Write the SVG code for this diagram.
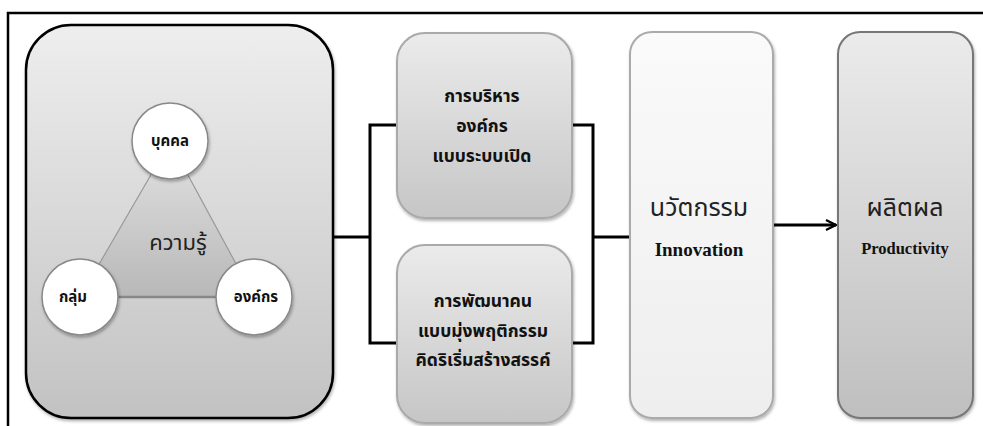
<svg xmlns="http://www.w3.org/2000/svg" width="983" height="426" viewBox="0 0 983 426">
<defs>
<linearGradient id="gBig" x1="0" y1="0" x2="0" y2="1"><stop offset="0" stop-color="#eeeeee"/><stop offset="1" stop-color="#c2c2c2"/></linearGradient>
<linearGradient id="gMid" x1="0" y1="0" x2="0" y2="1"><stop offset="0" stop-color="#ebebeb"/><stop offset="1" stop-color="#c6c6c6"/></linearGradient>
<linearGradient id="gInno" x1="0" y1="0" x2="0" y2="1"><stop offset="0" stop-color="#fafafa"/><stop offset="1" stop-color="#eeeeee"/></linearGradient>
<linearGradient id="gProd" x1="0" y1="0" x2="0" y2="1"><stop offset="0" stop-color="#ebebeb"/><stop offset="1" stop-color="#bfbfbf"/></linearGradient>
<linearGradient id="gTri" x1="0" y1="0" x2="0" y2="1"><stop offset="0" stop-color="#e2e2e2"/><stop offset="1" stop-color="#b8b8b8"/></linearGradient>
<filter id="sh" x="-10%" y="-10%" width="125%" height="125%"><feDropShadow dx="1" dy="2" stdDeviation="1.5" flood-color="#000" flood-opacity="0.3"/></filter>
<marker id="arr" viewBox="0 0 12 12" refX="11" refY="6" markerWidth="12" markerHeight="12" markerUnits="userSpaceOnUse" orient="auto"><path d="M1,1 L11,6 L1,11" fill="none" stroke="#000" stroke-width="2.2"/></marker>
<style>
.thai{font-family:"Noto Sans Thai","Noto Sans Thai Looped","Loma","Garuda","Tlwg Typo","Noto Sans","DejaVu Sans",sans-serif;}
.b{font-weight:bold;fill:#111;}
.conn{fill:none;stroke:#000;stroke-width:3;}
.en{font-family:"Liberation Serif","DejaVu Serif",serif;font-weight:bold;fill:#111;}
</style>
</defs>
<path d="M8,426 V13 H983" fill="none" stroke="#000" stroke-width="2.5"/>
<g id="knowledge">
<rect x="26" y="25" width="307" height="393" rx="45" ry="45" fill="url(#gBig)" stroke="#000" stroke-width="2.5" filter="url(#sh)"/>
<polygon points="170,142 80,297 254,297" fill="url(#gTri)" stroke="#999" stroke-width="1.2"/>
<line x1="80" y1="297" x2="254" y2="297" stroke="#888" stroke-width="2.5"/>
<text class="thai" x="178" y="250" font-size="22" text-anchor="middle" fill="#222">ความรู้</text>
</g>
<g id="person">
<circle cx="170" cy="141" r="38" fill="#fff" stroke="#888" stroke-width="1.5" filter="url(#sh)"/>
<text class="thai b" x="170" y="146" font-size="15" text-anchor="middle">บุคคล</text>
</g>
<g id="group">
<circle cx="80" cy="297" r="38" fill="#fff" stroke="#888" stroke-width="1.5" filter="url(#sh)"/>
<text class="thai b" x="73" y="302" font-size="15" text-anchor="middle">กลุ่ม</text>
</g>
<g id="org">
<circle cx="254" cy="297" r="38" fill="#fff" stroke="#888" stroke-width="1.5" filter="url(#sh)"/>
<text class="thai b" x="256" y="302" font-size="15" text-anchor="middle">องค์กร</text>
</g>
<g id="connectors">
<path class="conn" d="M333,237 H370 M397,125 H370 V343 H397"/>
<path class="conn" d="M572,125 H593 V343 H572 M593,237 H630"/>
<line class="conn" x1="773" y1="225" x2="836" y2="225" marker-end="url(#arr)"/>
</g>
<g id="management">
<rect x="397" y="33" width="175" height="185" rx="28" ry="28" fill="url(#gMid)" stroke="#aaa" stroke-width="2" filter="url(#sh)"/>
<text class="thai b" font-size="17.5" text-anchor="middle"><tspan x="482" y="102">การบริหาร</tspan><tspan x="482" y="132">องค์กร</tspan><tspan x="482" y="162">แบบระบบเปิด</tspan></text>
</g>
<g id="development">
<rect x="397" y="245" width="175" height="178" rx="28" ry="28" fill="url(#gMid)" stroke="#aaa" stroke-width="2" filter="url(#sh)"/>
<text class="thai b" font-size="17.5" text-anchor="middle"><tspan x="483" y="307">การพัฒนาคน</tspan><tspan x="483" y="337">แบบมุ่งพฤติกรรม</tspan><tspan x="483" y="366">คิดริเริ่มสร้างสรรค์</tspan></text>
</g>
<g id="innovation">
<rect x="630" y="32" width="143" height="386" rx="22" ry="22" fill="url(#gInno)" stroke="#aaa" stroke-width="2" filter="url(#sh)"/>
<text class="thai" x="699" y="216" font-size="25" text-anchor="middle" fill="#222">นวัตกรรม</text>
<text class="en" x="699" y="256" font-size="19" text-anchor="middle">Innovation</text>
</g>
<g id="productivity">
<rect x="838" y="32" width="135" height="386" rx="22" ry="22" fill="url(#gProd)" stroke="#777" stroke-width="2" filter="url(#sh)"/>
<text class="thai" x="905" y="216" font-size="25" text-anchor="middle" fill="#222">ผลิตผล</text>
<text class="en" x="905" y="254" font-size="16.5" text-anchor="middle">Productivity</text>
</g>
</svg>
